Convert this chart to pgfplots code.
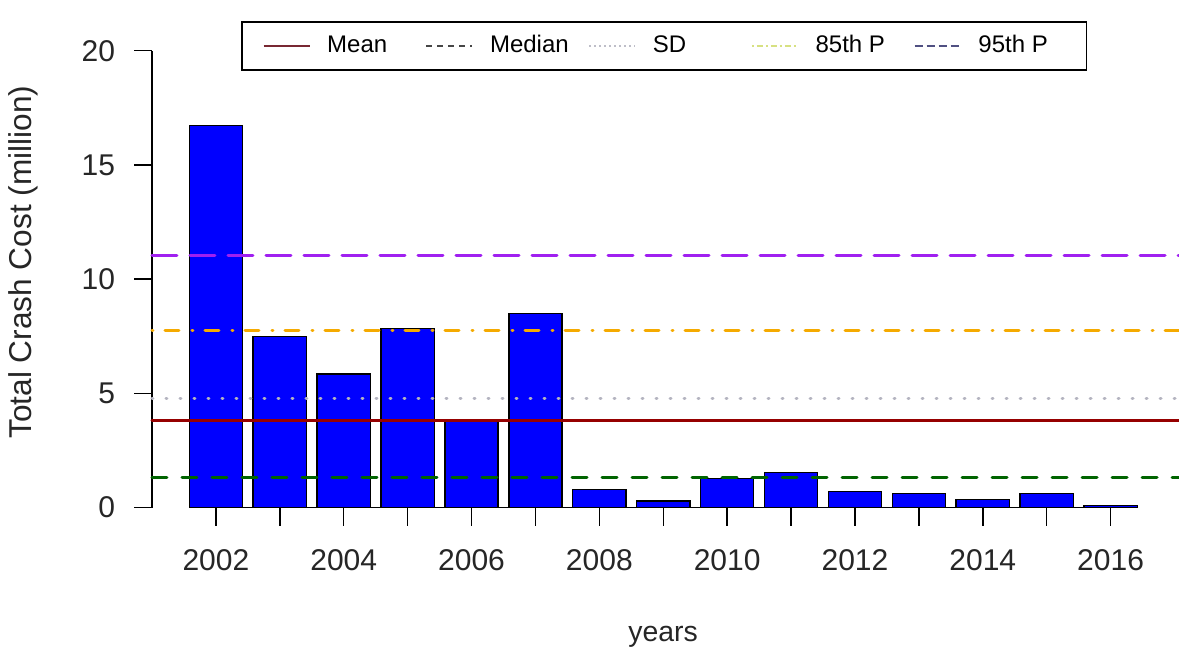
\documentclass[border=0pt]{standalone}
\usepackage{fontspec}
\setmainfont{Liberation Sans}
\usepackage{pgfplots}
\pgfplotsset{compat=1.18}
\definecolor{barblue}{RGB}{0,0,255}
\definecolor{meancol}{RGB}{150,0,0}
\definecolor{medcol}{RGB}{0,100,0}
\definecolor{sdcol}{RGB}{180,180,192}
\definecolor{p85col}{RGB}{245,170,0}
\definecolor{p95col}{RGB}{160,32,240}
\definecolor{lgmean}{RGB}{120,40,50}
\definecolor{lgmed}{RGB}{70,70,70}
\definecolor{lgsd}{RGB}{190,190,200}
\definecolor{lg85}{RGB}{215,225,130}
\definecolor{lg95}{RGB}{80,80,130}
\begin{document}
\begin{tikzpicture}
\begin{axis}[
  scale only axis,
  width=513.5pt, height=228.4pt,
  at={(0pt,0pt)}, anchor=south west,
  xmin=2001, xmax=2017.07,
  ymin=0, ymax=20,
  axis x line*=bottom,
  axis y line*=left,
  x axis line style={draw=none},
  y axis line style={-, line width=0.7pt},
  tick align=outside,
  major tick length=9pt,
  tick style={black, line width=0.7pt},
  xtick={2002,2003,...,2016},
  xticklabels={2002,,2004,,2006,,2008,,2010,,2012,,2014,,2016},
  ytick={0,5,10,15,20},
  /pgf/number format/assume math mode=true,
  ticklabel style={font=\fontsize{15}{18}\selectfont, text=black!85},
  xticklabel shift=8.5pt,
  yticklabel shift=6pt,
  xlabel={years},
  ylabel={Total Crash Cost (million)},
  every axis x label/.style={at={(axis description cs:0.4976,-0.2835)}, anchor=center, font=\fontsize{14.2}{17}\selectfont, text=black!85},
  every axis y label/.style={at={(axis description cs:-0.1256,0.537)}, anchor=center, rotate=90, font=\fontsize{15.8}{18}\selectfont, text=black!85},
  legend columns=5,
  legend style={
    at={(axis description cs:0.0867,1.065)}, anchor=north west,
    draw=black, line width=0.8pt,
    inner xsep=10.5pt, inner ysep=6pt,
    font=\fontsize{12}{14}\selectfont,
    nodes={inner sep=0pt, text height=9.5pt, text depth=2.5pt},
    /tikz/every odd column/.append style={column sep=8.5pt},
    /tikz/every even column/.append style={column sep=8.2pt},
  },
  legend image code/.code={\draw[#1] (0pt,0pt) -- (23pt,0pt);},
  clip=false,
]
% bars
\addplot[ybar, bar width=0.8333, fill=barblue, draw=black, line width=0.7pt, forget plot]
coordinates {
(2002,16.72) (2003,7.50) (2004,5.84) (2005,7.83) (2006,3.78)
(2007,8.50) (2008,0.78) (2009,0.28) (2010,1.28) (2011,1.52)
(2012,0.69) (2013,0.61) (2014,0.35) (2015,0.61) (2016,0.08)
};
% baseline
\addplot[black, line width=0.7pt, forget plot] coordinates {(2001.583,0) (2016.417,0)};
% reference lines
\addplot[meancol, line width=1.5pt, line cap=round, forget plot] coordinates {(2001,3.79) (2017.07,3.79)};
\addplot[medcol, line width=1.5pt, line cap=round, dash pattern=on 7.5pt off 7.5pt, forget plot] coordinates {(2001,1.30) (2017.07,1.30)};
\addplot[sdcol, line width=1.5pt, line cap=round, dash pattern=on 0.5pt off 6.5pt, forget plot] coordinates {(2001,4.78) (2017.07,4.78)};
\addplot[p85col, line width=1.5pt, line cap=round, dash pattern=on 0.5pt off 6pt on 7pt off 6.5pt, forget plot] coordinates {(2001,7.77) (2017.07,7.77)};
\addplot[p95col, line width=1.5pt, line cap=round, dash pattern=on 12.5pt off 6.5pt, forget plot] coordinates {(2001,11.03) (2017.07,11.03)};
% legend
\addlegendimage{lgmean, line width=0.7pt}
\addlegendentry{\makebox[41pt][l]{Mean}}
\addlegendimage{lgmed, line width=0.7pt, dash pattern=on 3pt off 2.5pt}
\addlegendentry{\makebox[41pt][l]{Median}}
\addlegendimage{lgsd, line width=0.7pt, dash pattern=on 1pt off 1.5pt}
\addlegendentry{\makebox[41pt][l]{SD}}
\addlegendimage{lg85, line width=0.7pt, dash pattern=on 1pt off 1.5pt on 3pt off 1.5pt}
\addlegendentry{\makebox[41pt][l]{85th P}}
\addlegendimage{lg95, line width=0.7pt, dash pattern=on 4pt off 2pt}
\addlegendentry{\makebox[43.5pt][l]{95th P}}
\end{axis}
\pgfresetboundingbox
\path[use as bounding box] (-76pt,-73.25pt) rectangle (513.5pt,253.75pt);
\end{tikzpicture}
\end{document}
